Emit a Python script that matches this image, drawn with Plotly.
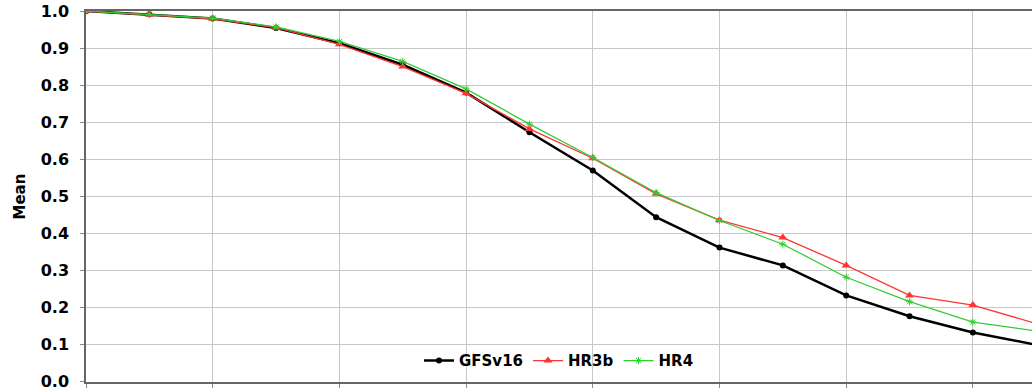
import plotly.graph_objects as go

hours = [0, 12, 24, 36, 48, 60, 72, 84, 96, 108, 120, 132, 144, 156, 168, 180]
gfsv16 = [1.0, 0.991, 0.98, 0.954, 0.913, 0.855, 0.780, 0.673, 0.570, 0.444, 0.362, 0.314, 0.233, 0.177, 0.133, 0.100]
hr3b = [1.0, 0.990, 0.979, 0.955, 0.910, 0.850, 0.778, 0.682, 0.603, 0.507, 0.436, 0.389, 0.314, 0.233, 0.207, 0.157]
hr4 = [1.0, 0.991, 0.981, 0.957, 0.918, 0.864, 0.790, 0.695, 0.605, 0.510, 0.435, 0.371, 0.282, 0.216, 0.161, 0.137]
y_ticks = [0.0, 0.1, 0.2, 0.3, 0.4, 0.5, 0.6, 0.7, 0.8, 0.9, 1.0]
x_grid = [0, 24, 48, 72, 96, 120, 144, 168]

FONT = "DejaVu Sans"

fig = go.Figure()
fig.add_trace(go.Scatter(x=hours, y=gfsv16, name="GFSv16", mode="lines+markers",
                         line=dict(color="#000000", width=2.5),
                         marker=dict(symbol="circle", size=6, color="#000000")))
fig.add_trace(go.Scatter(x=hours, y=hr3b, name="HR3b", mode="lines+markers",
                         line=dict(color="#ff3333", width=1.3),
                         marker=dict(symbol="triangle-up", size=8, color="#ff3333")))
fig.add_trace(go.Scatter(x=hours, y=hr4, name="HR4", mode="lines+markers",
                         line=dict(color="#33cc33", width=1.3),
                         marker=dict(symbol="asterisk", size=6, color="#33cc33",
                                     line=dict(color="#33cc33", width=1))))

x_right = (1032 - 86) / 126.7 * 24

fig.update_layout(
    width=1032, height=390,
    margin=dict(l=86, r=0, t=11, b=8, autoexpand=False),
    paper_bgcolor="white", plot_bgcolor="white",
    font=dict(family=FONT, color="#000000"),
    showlegend=True,
    legend=dict(orientation="h", x=0.5, xanchor="center", y=0.057, yanchor="middle",
                bgcolor="rgba(0,0,0,0)",
                font=dict(family=FONT, size=15, color="#000000", weight="bold"),
                itemwidth=30),
    xaxis=dict(range=[0, x_right], tickvals=x_grid, showticklabels=False,
               showgrid=True, gridcolor="#c8c8c8", gridwidth=1,
               showline=True, linecolor="#666666", linewidth=1.5, mirror=True,
               ticks="outside", ticklen=4, tickcolor="#888888", zeroline=False),
    yaxis=dict(range=[-0.0005, 1], tickvals=y_ticks, tickformat=".1f",
               tickfont=dict(family=FONT, size=16, color="#000000", weight="bold"),
               showgrid=True, gridcolor="#c8c8c8", gridwidth=1,
               showline=True, linecolor="#666666", linewidth=1.5,
               ticks="outside", ticklen=4, tickcolor="#888888",
               ticklabelstandoff=8, ticklabeloverflow="allow", zeroline=False),
    annotations=[dict(text="Mean", xref="paper", yref="paper",
                      x=-(86 - 19) / 946, y=0.5, xanchor="center", yanchor="middle",
                      textangle=-90, showarrow=False,
                      font=dict(family=FONT, size=15, color="#000000", weight="bold"))],
)

fig.write_html("out.html")
